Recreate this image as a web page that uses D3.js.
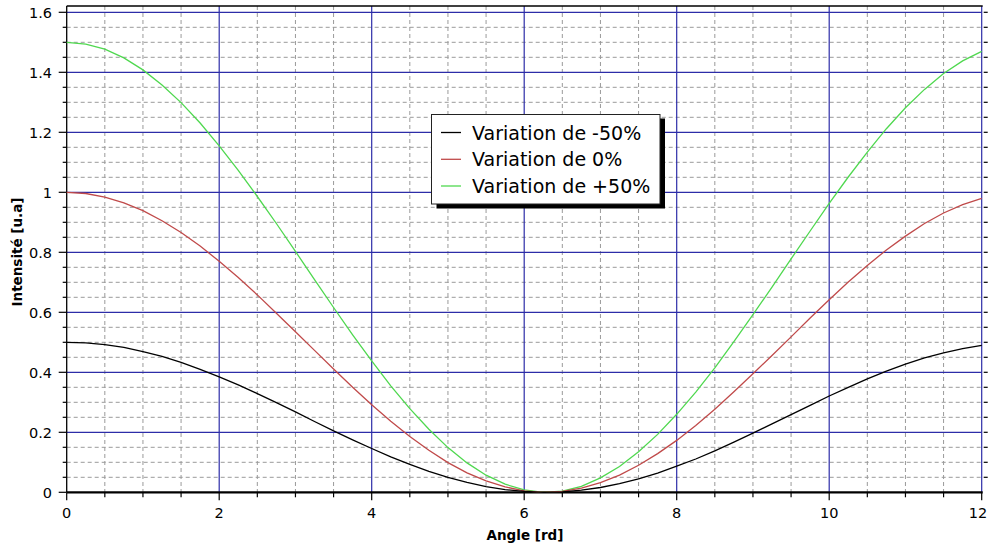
<!DOCTYPE html>
<html><head><meta charset="utf-8">
<script src="https://cdn.jsdelivr.net/npm/d3@7"></script>
<style>
html,body{margin:0;padding:0;background:#fff;}
svg{display:block;font-family:"DejaVu Sans",sans-serif;}
</style></head>
<body><svg id="c" width="989" height="546"></svg>
<script>
// Data (angle step 0.25 rd)
const angles = d3.range(0, 12.0001, 0.25);
const serieMoins50 = [0.500,0.498,0.492,0.483,0.469,0.453,0.433,0.410,0.385,0.358,0.329,0.299,0.268,0.236,0.205,0.175,0.146,0.118,0.093,0.070,0.050,0.033,0.019,0.009,0.003,0.000,0.001,0.007,0.016,0.029,0.045,0.064,0.087,0.111,0.138,0.167,0.197,0.228,0.259,0.290,0.321,0.350,0.378,0.404,0.427,0.448,0.465,0.479,0.490];
const serie0 = [1.000,0.996,0.984,0.965,0.939,0.905,0.866,0.821,0.770,0.716,0.658,0.597,0.535,0.473,0.411,0.350,0.292,0.237,0.186,0.140,0.099,0.065,0.038,0.018,0.005,0.000,0.003,0.014,0.032,0.057,0.090,0.129,0.173,0.223,0.277,0.335,0.395,0.456,0.518,0.581,0.642,0.701,0.756,0.808,0.854,0.896,0.931,0.959,0.980];
const seriePlus50 = [1.500,1.494,1.477,1.448,1.408,1.358,1.299,1.231,1.155,1.073,0.986,0.896,0.803,0.709,0.616,0.525,0.438,0.355,0.279,0.210,0.149,0.098,0.057,0.027,0.008,0.000,0.004,0.020,0.048,0.086,0.135,0.193,0.260,0.334,0.415,0.502,0.592,0.684,0.778,0.871,0.963,1.051,1.134,1.212,1.282,1.343,1.396,1.438,1.470];
const seriesNames = ["Variation de -50%","Variation de 0%","Variation de +50%"];
const seriesColors = ["#000000","#c04a4a","#4fd84f"];
const xTicks = [0,2,4,6,8,10,12];
const xTickLabels = ["0","2","4","6","8","10","12"];
const yTicks = [0,0.2,0.4,0.6,0.8,1,1.2,1.4,1.6];
const yTickLabels = ["0","0.2","0.4","0.6","0.8","1","1.2","1.4","1.6"];
const xMinorStep = 0.5, yMinorStep = 0.05;
const xTitle = "Angle [rd]", yTitle = "Intensité [u.a]";

const svg = d3.select("#c");
const L = 66.7, R = 981.7, T = 6, B = 492.3;
const x = d3.scaleLinear().domain([0,12]).range([L,R]);
const y = d3.scaleLinear().domain([0,1.6]).range([B,B-480]);
const yTop = y.invert(T);

const xMinor = d3.range(0, 12.0001, xMinorStep).filter(v => Math.abs(v/2 - Math.round(v/2)) > 1e-6);
const yMinor = d3.range(0, yTop, yMinorStep).filter(v => Math.abs(v/0.2 - Math.round(v/0.2)) > 1e-6);

// minor dashed grid
const g = svg.append("g");
g.selectAll(".vx").data(xMinor).join("line")
  .attr("x1", d=>x(d)).attr("x2", d=>x(d)).attr("y1", T).attr("y2", B)
  .attr("stroke","#9a9a9a").attr("stroke-width",1).attr("stroke-dasharray","4,3");
g.selectAll(".hy").data(yMinor).join("line")
  .attr("x1", L).attr("x2", R).attr("y1", d=>y(d)).attr("y2", d=>y(d))
  .attr("stroke","#9a9a9a").attr("stroke-width",1).attr("stroke-dasharray","4,3");
// major blue grid
g.selectAll(".vX").data(xTicks.filter(d=>d>0)).join("line")
  .attr("x1", d=>x(d)).attr("x2", d=>x(d)).attr("y1", T).attr("y2", B)
  .attr("stroke","#2d2da8").attr("stroke-width",1.2);
g.selectAll(".hY").data(yTicks.filter(d=>d>0)).join("line")
  .attr("x1", L).attr("x2", R).attr("y1", d=>y(d)).attr("y2", d=>y(d))
  .attr("stroke","#2d2da8").attr("stroke-width",1.2);

// axes
const ax = svg.append("g").attr("stroke","#000");
ax.append("line").attr("x1",L).attr("x2",R+1).attr("y1",B).attr("y2",B).attr("stroke-width",2.2);
ax.append("line").attr("x1",L).attr("x2",L).attr("y1",T).attr("y2",B).attr("stroke-width",1.3);
ax.append("line").attr("x1",L).attr("x2",R+1).attr("y1",T).attr("y2",T).attr("stroke-width",1.5);
// bottom ticks
ax.selectAll(".bt").data(xTicks).join("line").attr("x1",d=>x(d)).attr("x2",d=>x(d)).attr("y1",B).attr("y2",B+8).attr("stroke-width",1.2);
ax.selectAll(".btm").data(xMinor).join("line").attr("x1",d=>x(d)).attr("x2",d=>x(d)).attr("y1",B).attr("y2",B+5).attr("stroke-width",1.2);
// left ticks
ax.selectAll(".lt").data(yTicks).join("line").attr("y1",d=>y(d)).attr("y2",d=>y(d)).attr("x1",L-8).attr("x2",L).attr("stroke-width",1.2);
ax.selectAll(".ltm").data(yMinor).join("line").attr("y1",d=>y(d)).attr("y2",d=>y(d)).attr("x1",L-4).attr("x2",L).attr("stroke-width",1.2);
// right ticks
ax.selectAll(".rt").data(yMinor.concat(yTicks.filter(d=>d>0))).join("line").attr("y1",d=>y(d)).attr("y2",d=>y(d)).attr("x1",R+2).attr("x2",R+6).attr("stroke-width",1.2);

// tick labels (last one kept inside the page)
svg.append("g").selectAll("text").data(xTicks).join("text")
  .attr("x",(d,i)=>Math.min(x(d), 978)).attr("y",B+26).attr("text-anchor","middle")
  .attr("font-size","14.5px").attr("fill","#000").text((d,i)=>xTickLabels[i]);
svg.append("g").selectAll("text").data(yTicks).join("text")
  .attr("x",52).attr("y",d=>y(d)+5.3).attr("text-anchor","end")
  .attr("font-size","14.5px").attr("fill","#000").text((d,i)=>yTickLabels[i]);

// titles
svg.append("text").attr("x",525).attr("y",540).attr("text-anchor","middle")
  .attr("font-size","13.5px").attr("font-weight","bold").text(xTitle);
svg.append("text").attr("transform","translate(22,252) rotate(-90)").attr("text-anchor","middle")
  .attr("font-size","13.5px").attr("font-weight","bold").text(yTitle);

// curves
const all = [serieMoins50, serie0, seriePlus50];
const line = d3.line().x((d,i)=>x(angles[i])).y(d=>y(d));
[2,1,0].forEach(k=>{
  svg.append("path").datum(all[k]).attr("d",line).attr("fill","none")
    .attr("stroke",seriesColors[k]).attr("stroke-width",1.3);
});

// legend
const lg = svg.append("g");
lg.append("rect").attr("x",436.5).attr("y",118.5).attr("width",228.5).attr("height",90).attr("fill","#000");
lg.append("rect").attr("x",431.5).attr("y",114.5).attr("width",228.5).attr("height",89.5).attr("fill","#fff").attr("stroke","#222").attr("stroke-width",1);
const rows = [132.5,159.3,186];
seriesNames.forEach((n,i)=>{
  lg.append("line").attr("x1",441).attr("x2",461).attr("y1",rows[i]).attr("y2",rows[i]).attr("stroke",seriesColors[i]).attr("stroke-width",1.3);
  lg.append("text").attr("x",472).attr("y",rows[i]+7).attr("font-size","19px").attr("fill","#000").text(n);
});
</script></body></html>
